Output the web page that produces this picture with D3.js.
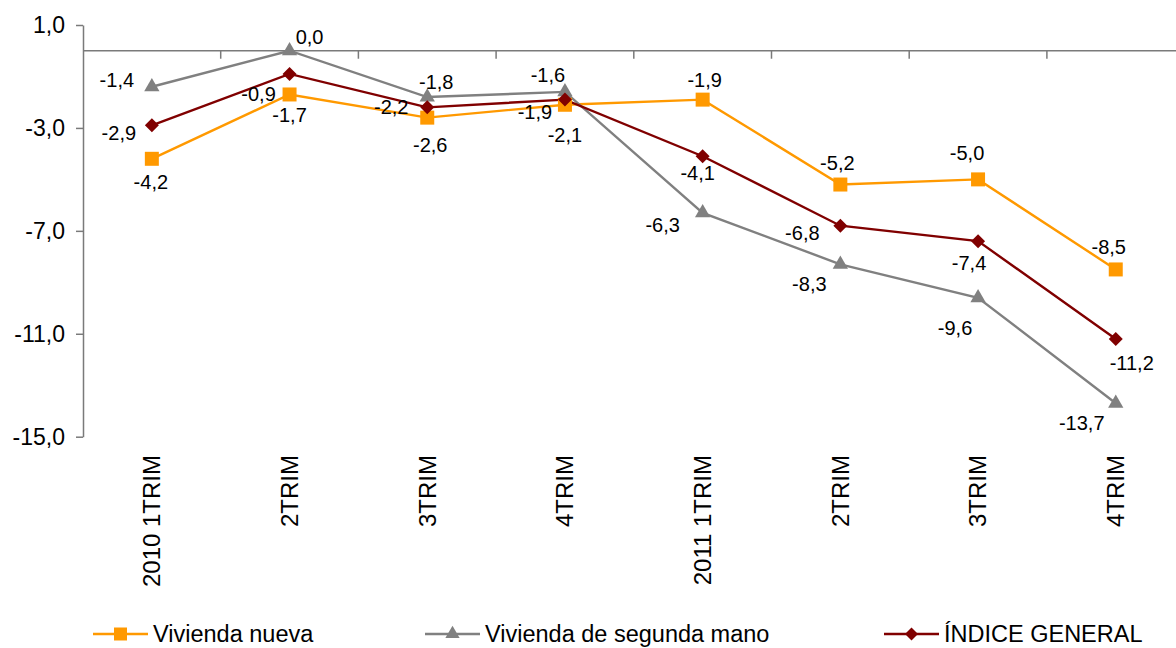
<!DOCTYPE html>
<html>
<head>
<meta charset="utf-8">
<script src="https://cdn.jsdelivr.net/npm/d3@7"></script>
<style>
  html, body { margin: 0; padding: 0; background: #fff; overflow: hidden; }
  text { font-family: "Liberation Sans", Arial, sans-serif; fill: #000; }
</style>
</head>
<body>
<svg id="chart" width="1176" height="648"></svg>
<script>
// data
const categories = ["2010 1TRIM", "2TRIM", "3TRIM", "4TRIM", "2011 1TRIM", "2TRIM ", "3TRIM ", "4TRIM "]
const yTicks = [1, -3, -7, -11, -15]

const viviendaNueva = [-4.2, -1.7, -2.6, -2.1, -1.9, -5.2, -5.0, -8.5]
const segundaMano = [-1.4, 0.0, -1.8, -1.6, -6.3, -8.3, -9.6, -13.7]
const indiceGeneral = [-2.9, -0.9, -2.2, -1.9, -4.1, -6.8, -7.4, -11.2]

// where each value label sits relative to its marker (like excel did it)
const offNueva = [[-1, 23], [0, 21], [3, 27], [0, 30], [2, -20], [-3, -22], [-11, -26], [-7, -22]]
const offSegunda = [[-35, -7], [20, -14], [9, -15], [-17, -17], [-40, 12], [-31, 20], [-23, 30], [-34, 20]]
const offIndice = [[-33, 8], [-31, 20], [-36, 0], [-30, 12], [-5, 17], [-38, 7], [-9, 22], [16, 24]]

const series = [
  {name: "Vivienda nueva", values: viviendaNueva, offsets: offNueva, color: "#FF9900", symbol: "square"},
  {name: "Vivienda de segunda mano", values: segundaMano, offsets: offSegunda, color: "#808080", symbol: "triangle"},
  {name: "ÍNDICE GENERAL", values: indiceGeneral, offsets: offIndice, color: "#800000", symbol: "diamond"}
]

const svg = d3.select("#chart")
const axisColor = "#7a7a7a"
const fmt = v => v.toFixed(1).replace(".", ",")

const x = d3.scaleBand().domain(categories).range([83, 1184.6])
const y = d3.scaleLinear().domain([-15, 1]).range([436.7, 25])
const cx = i => x(categories[i]) + x.bandwidth() / 2

// y axis
const yAxis = svg.append("g")
  .attr("transform", "translate(83,0)")
  .call(d3.axisLeft(y).tickValues(yTicks).tickFormat(fmt).tickSize(7).tickSizeOuter(0).tickPadding(11))
yAxis.select(".domain").attr("stroke", axisColor).attr("stroke-width", 1.5)
yAxis.selectAll(".tick line").attr("stroke", axisColor).attr("stroke-width", 1.5)
yAxis.selectAll(".tick text").attr("font-size", 23).attr("font-family", "Liberation Sans, Arial").attr("fill", "#000")

// category axis crosses at zero, ticks on the band boundaries
const y0 = y(0)
svg.append("line")
  .attr("x1", 83).attr("x2", 1176)
  .attr("y1", y0).attr("y2", y0)
  .attr("stroke", axisColor).attr("stroke-width", 1.5)

svg.append("g").selectAll("line")
  .data(categories.slice(1))
  .join("line")
  .attr("x1", d => x(d)).attr("x2", d => x(d))
  .attr("y1", y0).attr("y2", y0 + 8)
  .attr("stroke", axisColor).attr("stroke-width", 1.5)

svg.append("g").selectAll("text")
  .data(categories)
  .join("text")
  .attr("transform", (d, i) => "translate(" + cx(i) + ",455) rotate(-90)")
  .attr("text-anchor", "end")
  .attr("dy", "0.35em")
  .attr("font-size", 24)
  .text(d => d.trim())

// symbols
const symbolPath = (kind, s) => {
  if (kind === "square") return d3.symbol(d3.symbolSquare, s * s)()
  if (kind === "triangle") return d3.symbol(d3.symbolTriangle, s * s * 0.45)()
  return d3.symbol(d3.symbolSquare, s * s * 0.5)()
}
const symbolRot = kind => kind === "diamond" ? " rotate(45)" : ""

const line = d3.line()
  .x((d, i) => cx(i))
  .y(d => y(d))

series.forEach(s => {
  svg.append("path")
    .datum(s.values)
    .attr("d", line)
    .attr("fill", "none")
    .attr("stroke", s.color)
    .attr("stroke-width", 2.4)
})

series.forEach(s => {
  svg.append("g").selectAll("path")
    .data(s.values)
    .join("path")
    .attr("d", symbolPath(s.symbol, s.symbol === "triangle" ? 15 : 14))
    .attr("transform", (d, i) => "translate(" + cx(i) + "," + y(d) + ")" + symbolRot(s.symbol))
    .attr("fill", s.color)
})

// value labels
series.forEach(s => {
  svg.append("g").selectAll("text")
    .data(s.values)
    .join("text")
    .attr("x", (d, i) => cx(i) + s.offsets[i][0])
    .attr("y", (d, i) => y(d) + s.offsets[i][1])
    .attr("dy", "0.35em")
    .attr("text-anchor", "middle")
    .attr("font-size", 20)
    .text(fmt)
})

// legend (the original is clipped at the bottom edge, keep it just inside)
const legendX = [93, 425, 884]
const legend = svg.append("g").selectAll("g")
  .data(series)
  .join("g")
  .attr("transform", (d, i) => "translate(" + legendX[i] + ",634)")

legend.append("line")
  .attr("x1", 0).attr("x2", 55)
  .attr("stroke", d => d.color).attr("stroke-width", 2.4)
legend.append("path")
  .attr("d", d => symbolPath(d.symbol, d.symbol === "triangle" ? 14 : 13))
  .attr("transform", d => "translate(27.5,0)" + symbolRot(d.symbol))
  .attr("fill", d => d.color)
legend.append("text")
  .attr("x", 60)
  .attr("y", 8)
  .attr("font-size", 23.5)
  .text(d => d.name)
</script>
</body>
</html>
